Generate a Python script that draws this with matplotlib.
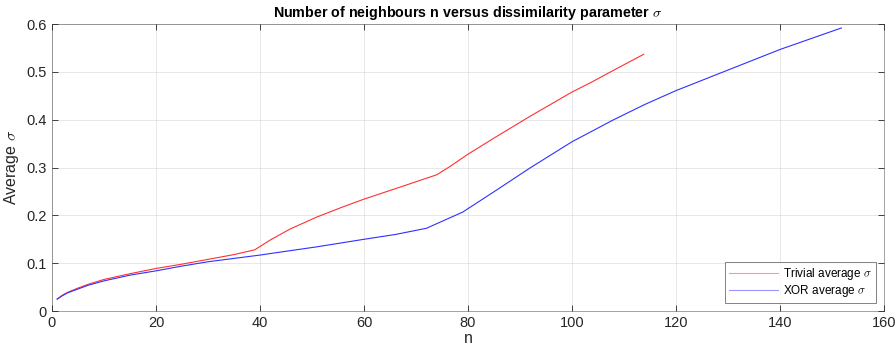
import numpy as np
import matplotlib.pyplot as plt

plt.rcParams['font.family'] = ['Liberation Sans', 'DejaVu Sans']
plt.rcParams['mathtext.fontset'] = 'cm'

# average sigma per number of neighbours
n_trivial = [1, 2, 3, 5, 7, 10, 15, 20, 25, 30, 35, 39, 41.9, 45.7, 50.8, 56, 60,
             66.9, 74, 76.5, 80, 85.5, 91.9, 100, 104, 107.9, 113.8]
sigma_trivial = [0.025, 0.033, 0.039, 0.048, 0.056, 0.066, 0.078, 0.089, 0.098,
                 0.108, 0.118, 0.128, 0.148, 0.171, 0.196, 0.218, 0.234,
                 0.259, 0.285, 0.302, 0.328, 0.365, 0.407, 0.458, 0.480, 0.503, 0.537]

n_xor = [1, 2, 3, 5, 7, 10, 15, 20, 25, 30, 35, 40, 44.4, 50.8, 60, 66, 72,
         79, 85.5, 91.9, 100, 108, 114, 120, 130, 140, 151.8]
sigma_xor = [0.025, 0.032, 0.038, 0.046, 0.054, 0.063, 0.075, 0.084, 0.094,
             0.103, 0.110, 0.117, 0.124, 0.134, 0.150, 0.160, 0.173,
             0.207, 0.253, 0.299, 0.354, 0.400, 0.432, 0.461, 0.504, 0.547, 0.592]

fig = plt.figure(figsize=(8.96, 3.5), dpi=100)
ax = fig.add_axes([0.058, 0.1114, 0.9286, 0.8196])

ax.plot(n_trivial, sigma_trivial, color='#ff3030', lw=0.8, label=r'Trivial average $\sigma$')
ax.plot(n_xor, sigma_xor, color='#3030ff', lw=0.8, label=r'XOR average $\sigma$')

ax.set_xlim(0, 160)
ax.set_ylim(0, 0.6)
ax.set_xticks(np.arange(0, 161, 20))
ax.set_yticks(np.arange(0, 0.61, 0.1))
ax.set_yticklabels(['0', '0.1', '0.2', '0.3', '0.4', '0.5', '0.6'])

ax.grid(True, color='#262626', alpha=0.12, lw=0.6)
ax.tick_params(direction='in', top=True, right=True, labelsize=10.5,
               colors='#262626', length=4, width=0.6)
for s in ax.spines.values():
    s.set_color('#262626')
    s.set_linewidth(0.6)
    s.set_alpha(0.5)

ax.set_xlabel('n', fontsize=11.5, color='#262626', labelpad=1)
ax.set_ylabel(r'Average $\sigma$', fontsize=11.5, color='#262626', labelpad=4)
ax.set_title(r'Number of neighbours n versus dissimilarity parameter $\sigma$',
             fontsize=10.3, fontweight='bold', pad=5)

leg = ax.legend(loc='lower right', fontsize=8.5, frameon=True, fancybox=False,
                edgecolor='#262626', handlelength=4.2, borderpad=0.3,
                labelspacing=0.1, handletextpad=0.4, borderaxespad=0.7)
leg.get_frame().set_linewidth(0.5)
for line in leg.get_lines():
    line.set_alpha(0.5)

fig.savefig('out.png', dpi=100)
